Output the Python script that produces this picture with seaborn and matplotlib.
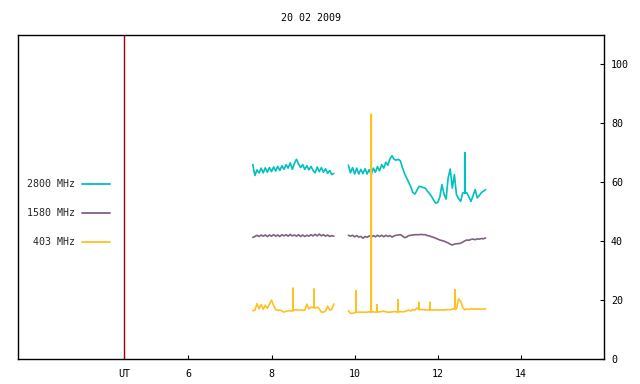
import numpy as np
import pandas as pd
import matplotlib
matplotlib.use("Agg")
import matplotlib.pyplot as plt
import seaborn as sns

# ---------------- data ----------------
title = "20 02 2009"
series_names = ["2800 MHz", "1580 MHz", "403 MHz"]
series_colors = ["#00c0c0", "#806080", "#ffc020"]

ut_marker = 4.45
xtick_vals = [4.45, 6, 8, 10, 12, 14]
xtick_labels = ["UT", "6", "8", "10", "12", "14"]
ytick_vals = [0, 20, 40, 60, 80, 100]

t_seg1 = [7.55, 7.60, 7.65, 7.70, 7.75, 7.80, 7.85, 7.90, 7.95, 8.00,
          8.05, 8.10, 8.15, 8.20, 8.25, 8.30, 8.35, 8.40, 8.45, 8.50,
          8.55, 8.60, 8.65, 8.70, 8.75, 8.80, 8.85, 8.90, 8.95, 9.00,
          9.05, 9.10, 9.15, 9.20, 9.25, 9.30, 9.35, 9.40, 9.45, 9.50]
t_seg2 = [9.85, 9.90, 9.95, 10.00, 10.05, 10.10, 10.15, 10.20, 10.25, 10.30,
          10.35, 10.40, 10.45, 10.50, 10.55, 10.60, 10.65, 10.70, 10.75, 10.80,
          10.85, 10.90, 10.95, 11.00, 11.05, 11.10, 11.15, 11.20, 11.25, 11.30,
          11.35, 11.40, 11.45, 11.50, 11.55, 11.60, 11.65, 11.70, 11.75, 11.80,
          11.85, 11.90, 11.95, 12.00, 12.05, 12.10, 12.15, 12.20, 12.25, 12.30,
          12.35, 12.40, 12.45, 12.50, 12.55, 12.60, 12.65, 12.70, 12.75, 12.80,
          12.85, 12.90, 12.95, 13.00, 13.05, 13.10, 13.15]

f2800_seg1 = [66.0, 62.3, 64.2, 63.2, 64.8, 63.2, 64.9, 63.4, 65.0, 63.6,
              65.2, 63.8, 65.4, 64.0, 65.6, 64.4, 66.0, 64.8, 66.6, 64.4,
              66.4, 67.8, 66.2, 65.0, 66.0, 64.4, 65.6, 64.2, 65.4, 64.0,
              63.2, 65.2, 63.6, 65.0, 63.4, 64.6, 63.0, 64.0, 62.6, 63.0]
f2800_seg2 = [65.8, 63.2, 65.0, 62.8, 64.8, 62.8, 64.4, 62.9, 64.6, 62.8,
              64.3, 62.7, 64.8, 63.4, 65.3, 63.9, 66.0, 64.8, 66.8, 65.8,
              68.0, 69.0, 67.8, 67.5, 67.8, 67.3, 65.0, 63.0, 61.5, 60.0,
              58.5, 56.5, 56.0, 57.3, 58.6, 58.5, 58.2, 58.0, 57.0, 56.2,
              55.2, 54.0, 52.9, 53.2, 55.0, 59.2, 56.0, 54.3, 61.5, 64.5,
              58.0, 62.6, 55.8, 54.5, 53.5, 56.4, 56.4, 56.4, 55.0, 53.5,
              55.5, 57.5, 54.7, 55.5, 56.5, 57.0, 57.5]
spk2800_t = [12.65]
spk2800_v = [70.0]

f1580_seg1 = [41.3, 41.6, 42.0, 41.6, 42.1, 41.7, 42.1, 41.6, 42.1, 41.7,
              42.2, 41.7, 42.1, 41.6, 42.2, 41.8, 42.2, 41.7, 42.3, 41.8,
              42.1, 41.7, 42.2, 41.6, 42.1, 41.6, 42.0, 41.7, 42.2, 41.8,
              42.3, 41.8, 42.4, 41.8, 42.2, 41.7, 42.1, 41.6, 41.9, 41.7]
f1580_seg2 = [42.0, 41.7, 42.0, 41.5, 41.9, 41.4, 41.6, 41.0, 41.6, 41.3,
              41.8, 41.4, 41.9, 41.5, 42.0, 41.6, 42.0, 41.5, 42.0, 41.6,
              41.9, 41.4, 41.8, 42.0, 42.1, 42.2, 41.8, 41.2, 41.4, 41.9,
              42.0, 42.1, 42.2, 42.2, 42.2, 42.3, 42.2, 42.2, 41.9, 41.8,
              41.5, 41.3, 41.0, 40.7, 40.4, 40.2, 40.0, 39.7, 39.4, 39.0,
              38.7, 39.0, 39.1, 39.2, 39.3, 39.7, 40.1, 40.4, 40.3, 40.6,
              40.7, 40.5, 40.8, 40.7, 40.9, 40.8, 41.1]
spk1580_t = []
spk1580_v = []

f403_seg1 = [16.4, 16.6, 18.8, 17.0, 18.5, 16.9, 18.2, 17.2, 18.6, 20.0,
             18.2, 16.8, 16.5, 16.6, 16.3, 15.9, 16.2, 16.4, 16.3, 16.4,
             16.6, 16.8, 16.5, 16.7, 16.5, 16.6, 18.6, 17.0, 17.6, 17.5,
             17.3, 17.6, 17.0, 15.9, 15.9, 16.3, 17.9, 16.6, 16.9, 18.7]
f403_seg2 = [16.4, 15.5, 15.5, 15.7, 15.9, 15.9, 15.9, 15.9, 15.9, 15.9,
             16.0, 16.0, 16.0, 15.9, 16.0, 16.0, 16.1, 16.3, 16.0, 15.9,
             15.9, 16.0, 16.1, 16.0, 16.0, 16.1, 16.0, 16.1, 16.3, 16.6,
             16.3, 16.8, 16.6, 17.3, 16.8, 16.8, 16.8, 16.7, 16.6, 16.7,
             16.7, 16.6, 16.7, 16.6, 16.6, 16.7, 16.6, 16.7, 16.8, 16.7,
             17.0, 17.0, 17.0, 20.4, 19.6, 17.5, 16.7, 17.0, 16.8, 17.1,
             16.9, 17.0, 16.9, 17.0, 16.9, 17.0, 17.0]
spk403_t = [8.52, 9.02, 10.03, 10.40, 10.54, 11.04, 11.55, 11.81, 12.41]
spk403_v = [24.0, 23.7, 23.1, 83.0, 18.4, 20.1, 19.2, 19.2, 23.5]

# ---------------- build long table ----------------
series_data = {
    "2800 MHz": (f2800_seg1, f2800_seg2, spk2800_t, spk2800_v),
    "1580 MHz": (f1580_seg1, f1580_seg2, spk1580_t, spk1580_v),
    "403 MHz": (f403_seg1, f403_seg2, spk403_t, spk403_v),
}
rows = []
for name, (s1, s2, st, sv) in series_data.items():
    for seg, (tt, vv) in enumerate([(t_seg1, s1), (t_seg2, s2)], start=1):
        tt = np.asarray(tt)
        vv = np.asarray(vv)
        pts = [(t, 0, v) for t, v in zip(tt, vv)]
        for ts, peak in zip(st, sv):
            if tt[0] <= ts <= tt[-1]:
                base = vv[np.argmin(np.abs(tt - ts))]
                pts += [(ts, 1, base), (ts, 2, peak), (ts, 3, base)]
        pts.sort(key=lambda p: (p[0], p[1]))
        for k, (t, _, v) in enumerate(pts):
            rows.append((name, seg, k, t, v))
df = pd.DataFrame(rows, columns=["series", "seg", "order", "t", "flux"])

# ---------------- style ----------------
sns.set_style("ticks")
plt.rcParams["font.family"] = ["DejaVu Sans Mono", "DejaVu Sans"]
plt.rcParams["axes.edgecolor"] = "black"
plt.rcParams["axes.linewidth"] = 1.0

fig = plt.figure(figsize=(6.4, 3.84), dpi=100)
ax = fig.add_axes([18 / 640, 1 - 359 / 384, (604 - 18) / 640, (359 - 35) / 384])

ax.axvline(ut_marker, color="#a00000", lw=1.0, zorder=1)

handles = []
for name, col in zip(series_names, series_colors):
    for seg in (1, 2):
        sub = df[(df["series"] == name) & (df["seg"] == seg)].sort_values("order")
        sns.lineplot(data=sub, x="t", y="flux", ax=ax, color=col, lw=1.2,
                     estimator=None, sort=False, legend=False, zorder=3)
    handles.append(plt.Line2D([], [], color=col, lw=1.3, label=name))

ax.set_xlim(1.9, 16)
ax.set_ylim(0, 110)
ax.set_xticks(xtick_vals)
ax.set_xticklabels(xtick_labels)
ax.set_yticks(ytick_vals)
ax.set_yticklabels([str(v) for v in ytick_vals])
ax.yaxis.tick_right()
ax.tick_params(axis="both", direction="in", length=3, width=0.8,
               labelsize=7.2, colors="black")
ax.tick_params(axis="x", pad=7)
ax.tick_params(axis="y", pad=5)
ax.set_xlabel("")
ax.set_ylabel("")
for sp in ax.spines.values():
    sp.set_visible(True)
    sp.set_color("black")

leg = fig.legend(handles=handles, loc="center right",
                 bbox_to_anchor=(110 / 640, 1 - 213 / 384),
                 bbox_transform=fig.transFigure,
                 frameon=False, markerfirst=False, fontsize=7.2,
                 handlelength=2.8, handletextpad=0.7, labelspacing=1.9,
                 borderpad=0, borderaxespad=0)

fig.text(311 / 640, 1 - 18 / 384, title, ha="center", va="center",
         fontsize=7.2, color="black")

fig.savefig("out.png", dpi=100)
